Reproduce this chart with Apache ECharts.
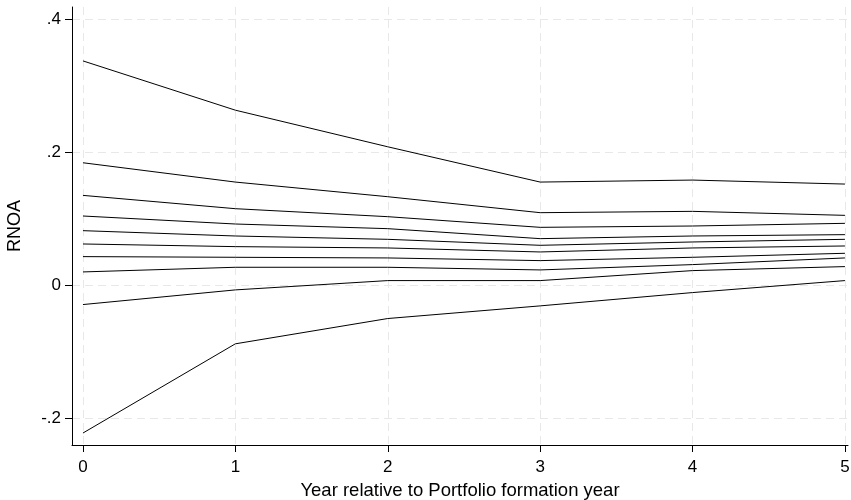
<!DOCTYPE html>
<html>
<head>
<meta charset="utf-8">
<script src="https://cdn.jsdelivr.net/npm/echarts@6/dist/echarts.min.js"></script>
<style>html,body{margin:0;padding:0;background:#fff}#c{width:851px;height:500px}</style>
</head>
<body>
<div id="c"></div>
<script>
const years = [0, 1, 2, 3, 4, 5];
const xTicks = [0, 1, 2, 3, 4, 5];
const yTicks = [-0.2, 0, 0.2, 0.4];
const p1  = [0.337, 0.263, 0.208, 0.155, 0.158, 0.152];
const p2  = [0.184, 0.155, 0.133, 0.109, 0.111, 0.105];
const p3  = [0.135, 0.115, 0.103, 0.087, 0.089, 0.093];
const p4  = [0.104, 0.092, 0.085, 0.070, 0.074, 0.076];
const p5  = [0.082, 0.074, 0.069, 0.060, 0.065, 0.069];
const p6  = [0.062, 0.058, 0.056, 0.050, 0.056, 0.059];
const p7  = [0.043, 0.042, 0.041, 0.037, 0.042, 0.048];
const p8  = [0.020, 0.027, 0.027, 0.023, 0.031, 0.041];
const p9  = [-0.029, -0.007, 0.007, 0.007, 0.022, 0.028];
const p10 = [-0.222, -0.088, -0.050, -0.031, -0.011, 0.007];
const portfolios = [p1, p2, p3, p4, p5, p6, p7, p8, p9, p10];

function fmtY(v) {
  if (Math.abs(v) < 1e-9) return '0';
  let s = String(Math.round(v * 10) / 10);
  return s.replace(/^(-?)0\./, '$1.');
}

const chart = echarts.init(document.getElementById('c'));
const font = 'Liberation Sans, Arial, sans-serif';
chart.setOption({
  animation: false,
  backgroundColor: '#fff',
  grid: { left: 72, right: 3, top: 7, bottom: 55, containLabel: false, outerBoundsMode: 'none' },
  xAxis: {
    type: 'value', min: -0.072, max: 5.02,
    name: 'Year relative to Portfolio formation year',
    nameLocation: 'middle', nameGap: 36,
    nameTextStyle: { fontFamily: font, fontSize: 18.5, color: '#000' },
    axisLine: { show: true, onZero: false, lineStyle: { color: '#000', width: 1 } },
    axisTick: { show: true, length: 7, customValues: xTicks, lineStyle: { color: '#000' } },
    axisLabel: { customValues: xTicks, margin: 14, fontFamily: font, fontSize: 17, color: '#000',
      formatter: v => String(v) },
    splitLine: { show: true, lineStyle: { color: '#e8e8e8', type: [8, 5], width: 1 } }
  },
  yAxis: {
    type: 'value', min: -0.24, max: 0.418,
    name: 'RNOA', nameLocation: 'middle', nameGap: 48,
    nameTextStyle: { fontFamily: font, fontSize: 18, color: '#000' },
    axisLine: { show: true, onZero: false, lineStyle: { color: '#000', width: 1 } },
    axisTick: { show: true, length: 7, customValues: yTicks, lineStyle: { color: '#000' } },
    axisLabel: { customValues: yTicks, margin: 11, fontFamily: font, fontSize: 17, color: '#000',
      formatter: fmtY },
    splitLine: { show: true, lineStyle: { color: '#e8e8e8', type: [8, 5], width: 1 } }
  },
  series: portfolios.map(p => ({
    type: 'line',
    data: years.map((x, i) => [x, p[i]]),
    symbol: 'none',
    lineStyle: { color: '#000', width: 1 },
    silent: true
  }))
});
</script>
</body>
</html>
